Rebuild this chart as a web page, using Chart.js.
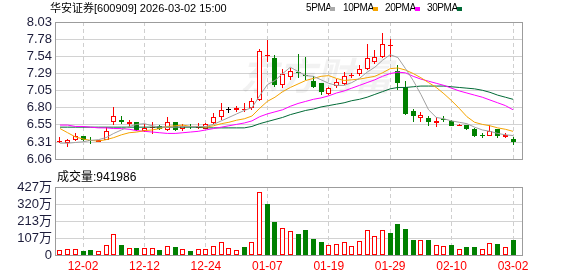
<!DOCTYPE html>
<html>
<head>
<meta charset="utf-8">
<script src="https://cdn.jsdelivr.net/npm/chart.js@4.4.1/dist/chart.umd.min.js"></script>
<style>
    body { margin: 0; background: #fff; width: 578px; height: 276px; position: relative; overflow: hidden;
           font-family: "Liberation Sans", "Noto Sans CJK SC", sans-serif; }
    canvas { position: absolute; left: 0; }
    #kline { top: 0; }
    #vol { top: 170px; }
    .txt { position: absolute; white-space: nowrap; color: #000; }
    .title { left: 50px; top: 1px; font-size: 11px; line-height: 14px; }
    .lg { top: 2px; font-size: 10px; line-height: 12px; letter-spacing: -0.4px; }
    .sw { position: absolute; top: 7px; width: 5px; height: 4px; }
    .volLabel { left: 57px; top: 170px; font-size: 12px; line-height: 15px; }
</style>
</head>
<body>
<canvas id="kline" width="578" height="170"></canvas>
<canvas id="vol" width="578" height="106"></canvas>

<div class="txt title">华安证券[600909] 2026-03-02 15:00</div>
<div class="txt lg" style="left:306px">5PMA</div><div class="sw" style="left:330px;background:#aaaaaa"></div>
<div class="txt lg" style="left:343px">10PMA</div><div class="sw" style="left:373px;background:#f5a400"></div>
<div class="txt lg" style="left:385px">20PMA</div><div class="sw" style="left:415px;background:#ff00ff"></div>
<div class="txt lg" style="left:427px">30PMA</div><div class="sw" style="left:457px;background:#006a36"></div>
<div class="txt volLabel">成交量:941986</div>

<script>
// 交易日
const dates = ['11-27','11-28','12-01','12-02','12-03','12-04','12-05','12-08','12-09','12-10',
               '12-11','12-12','12-15','12-16','12-17','12-18','12-19','12-22','12-23','12-24',
               '12-25','12-26','12-29','12-30','12-31','01-05','01-06','01-07','01-08','01-09',
               '01-12','01-13','01-14','01-15','01-16','01-19','01-20','01-21','01-22','01-23',
               '01-26','01-27','01-28','01-29','01-30','02-02','02-03','02-04','02-05','02-06',
               '02-09','02-10','02-11','02-12','02-13','02-24','02-25','02-26','02-27','03-02'];

// K线 (开 高 低 收)
const open  = [6.30,6.29,6.33,6.39,6.33,6.31,6.34,6.59,6.63,6.57, 6.59,6.47,6.51,6.53,6.48,6.59,6.49,6.53,6.51,6.50,
               6.58,6.66,6.77,6.76,6.77,6.79,6.91,7.54,7.52,7.12, 7.24,7.31,7.26,7.18,7.15,6.99,7.11,7.14,7.26,7.29,
               7.36,7.45,7.53,7.68,7.33,7.09,6.75,6.65,6.65,6.58, 6.64,6.61,6.54,6.55,6.50,6.41,6.40,6.49,6.38,6.35];
const high  = [6.38,6.35,6.44,6.40,6.38,6.34,6.52,6.81,6.68,6.62, 6.59,6.57,6.59,6.55,6.66,6.60,6.57,6.56,6.58,6.58,
               6.72,6.86,6.81,6.82,6.86,6.94,7.64,7.77,7.55,7.35, 7.37,7.57,7.53,7.25,7.16,7.09,7.21,7.31,7.30,7.41,
               7.72,7.63,7.87,7.78,7.41,7.19,6.78,6.74,6.68,6.67, 6.68,6.62,6.57,6.55,6.51,6.43,6.55,6.49,6.44,6.38];
const low   = [6.29,6.24,6.32,6.32,6.28,6.30,6.33,6.55,6.57,6.52, 6.46,6.45,6.42,6.48,6.46,6.47,6.46,6.50,6.49,6.49,
               6.56,6.63,6.73,6.74,6.74,6.77,6.90,7.46,7.09,7.08, 7.20,7.23,7.20,7.08,6.98,6.98,7.08,7.12,7.22,7.26,
               7.34,7.43,7.51,7.53,7.05,6.70,6.59,6.59,6.54,6.52, 6.60,6.53,6.53,6.48,6.38,6.37,6.40,6.37,6.36,6.26];
const close = [6.31,6.33,6.39,6.33,6.32,6.33,6.47,6.68,6.59,6.60, 6.48,6.51,6.52,6.50,6.60,6.48,6.53,6.52,6.53,6.57,
               6.67,6.77,6.77,6.79,6.78,6.90,7.61,7.55,7.13,7.28, 7.32,7.30,7.25,7.10,7.02,7.08,7.17,7.25,7.27,7.35,
               7.51,7.53,7.72,7.69,7.16,6.71,6.68,6.69,6.60,6.61, 6.63,6.54,6.55,6.50,6.39,6.40,6.46,6.40,6.41,6.31];

// 均线
const ma5  = [6.29,6.29,6.30,6.31,6.33,6.34,6.37,6.43,6.48,6.53, 6.56,6.57,6.54,6.52,6.52,6.52,6.53,6.53,6.53,6.53,
              6.56,6.61,6.66,6.71,6.76,6.80,6.97,7.13,7.19,7.29, 7.38,7.32,7.26,7.25,7.20,7.15,7.12,7.12,7.16,7.22,
              7.31,7.38,7.48,7.56,7.52,7.36,7.19,6.99,6.77,6.66, 6.64,6.61,6.59,6.57,6.52,6.48,6.46,6.43,6.41,6.40];
const ma10 = [6.50,6.44,6.38,6.35,6.33,6.32,6.34,6.37,6.41,6.44, 6.45,6.47,6.48,6.50,6.53,6.54,6.55,6.53,6.53,6.52,
              6.54,6.57,6.59,6.62,6.64,6.68,6.79,6.89,6.95,7.03, 7.09,7.14,7.19,7.22,7.25,7.26,7.22,7.19,7.20,7.21,
              7.23,7.25,7.30,7.36,7.37,7.34,7.29,7.23,7.16,7.09, 7.00,6.90,6.79,6.67,6.59,6.56,6.54,6.51,6.49,6.46];
const ma20 = [6.55,6.55,6.53,6.53,6.52,6.51,6.51,6.50,6.50,6.49, 6.47,6.46,6.45,6.44,6.43,6.43,6.44,6.45,6.46,6.48,
              6.50,6.52,6.54,6.56,6.58,6.61,6.67,6.71,6.74,6.77, 6.82,6.86,6.89,6.92,6.94,6.97,7.01,7.04,7.08,7.12,
              7.16,7.20,7.25,7.29,7.31,7.30,7.25,7.21,7.18,7.15, 7.12,7.08,7.04,7.01,6.98,6.95,6.91,6.87,6.83,6.77];
const ma30 = [6.52,6.52,6.52,6.52,6.52,6.52,6.52,6.52,6.52,6.52, 6.52,6.52,6.52,6.52,6.52,6.52,6.52,6.52,6.52,6.51,
              6.51,6.51,6.51,6.51,6.51,6.53,6.57,6.60,6.63,6.66, 6.70,6.73,6.76,6.78,6.81,6.83,6.85,6.87,6.90,6.92,
              6.95,6.99,7.03,7.07,7.09,7.09,7.10,7.11,7.11,7.11, 7.11,7.10,7.09,7.08,7.07,7.05,7.02,6.98,6.95,6.92];

// 成交量 (万手)
const volume = [31,37,37,27,31,25,60,131,62,42, 44,42,42,31,54,48,37,27,36,36,
                56,79,42,31,48,81,398,321,208,167, 150,131,156,100,83,62,67,81,56,87,
                160,119,156,140,194,162,94,94,94,62, 56,62,36,50,50,37,73,69,48,94];

const tickDates = ['12-02','12-12','12-24','01-07','01-19','01-29','02-10','03-02'];
const priceTicks = ['6.06','6.31','6.55','6.80','7.05','7.29','7.54','7.78','8.03'];
const volTicks = ['0','107万','213万','320万','427万'];

const RED = '#ff0000', GREEN = '#008000', BLACK = '#000000';
const P_MIN = 6.06, P_MAX = 8.03, V_MAX = 427;
const FONT = '"Liberation Sans", "Noto Sans CJK SC", Arial, sans-serif';
Chart.defaults.font.family = FONT;

const candleColor = dates.map((d, i) => close[i] > open[i] ? RED : close[i] < open[i] ? GREEN : BLACK);
const hollow = dates.map((d, i) => close[i] - open[i] > 0.02);

function xAxis(showLabels) {
    return {
        type: 'linear', min: -0.65, max: 60.17, offset: false,
        grid: { color: '#cfcfcf', drawTicks: false, offset: false },
        border: { display: false, dash: [4, 3] },
        afterBuildTicks: s => { s.ticks = tickDates.map(d => ({ value: dates.indexOf(d) })); },
        afterFit: s => { s.height = showLabels ? 21 : 5; },
        ticks: {
            display: showLabels, autoSkip: false, maxRotation: 0, padding: 4,
            color: RED, font: { size: 12 },
            callback: v => dates[v]
        }
    };
}

function yAxis(labels, min, max) {
    return {
        min: min, max: max,
        grid: { color: '#d2d2d2', drawTicks: false },
        border: { display: false },
        afterBuildTicks: s => {
            s.ticks = labels.map((t, k) => ({ value: min + k * (max - min) / (labels.length - 1) }));
        },
        afterFit: s => { s.width = 55; },
        ticks: { autoSkip: false, color: '#1c1c3a', font: { size: 13 }, padding: 3,
                 callback: (v, i) => labels[i] }
    };
}

// 柱体对齐到整像素, 避免发虚
const snapBars = {
    id: 'snapBars',
    afterDatasetsUpdate(chart) {
        chart.data.datasets.forEach((ds, k) => {
            const meta = chart.getDatasetMeta(k);
            if (meta.type !== 'bar') return;
            meta.data.forEach(el => {
                el.x = Math.floor(el.x) + 0.5;
                el.y = Math.round(el.y);
                el.base = Math.round(el.base);
            });
        });
    }
};

const frame = {
    id: 'frame',
    beforeDatasetsDraw(chart) {
        const { ctx, chartArea: a } = chart;
        ctx.save();
        ctx.strokeStyle = '#9c9c9c';
        ctx.lineWidth = 1;
        ctx.strokeRect(Math.round(a.left) + 0.5, Math.round(a.top) + 0.5,
                       Math.round(a.right - a.left), Math.round(a.bottom - a.top));
        ctx.restore();
    }
};

const watermark = {
    id: 'watermark',
    beforeDatasetsDraw(chart) {
        const ctx = chart.ctx;
        ctx.save();
        ctx.fillStyle = 'rgba(0,0,0,0.05)';
        ctx.font = 'italic bold 38px "Noto Sans CJK SC"';
        ctx.textBaseline = 'middle';
        ctx.fillText('东方财富', 240, 76);
        ctx.restore();
    }
};

const common = {
    responsive: false,
    animation: false,
    devicePixelRatio: 1,
    plugins: { legend: { display: false }, tooltip: { enabled: false } }
};

const pts = arr => arr.map((v, i) => ({ x: i, y: v }));
const maLine = (arr, color) => ({
    type: 'line', data: pts(arr), borderColor: color, borderWidth: 1,
    pointRadius: 0, tension: 0, order: 0
});

new Chart(document.getElementById('kline'), {
    type: 'bar',
    data: {
        datasets: [
            {   // 影线
                data: dates.map((d, i) => ({ x: i, y: [low[i], high[i]] })),
                backgroundColor: candleColor,
                grouped: false, maxBarThickness: 1, order: 3
            },
            {   // 实体
                data: dates.map((d, i) => ({ x: i, y: [Math.min(open[i], close[i]), Math.max(open[i], close[i])] })),
                backgroundColor: dates.map((d, i) => hollow[i] ? '#ffffff' : candleColor[i]),
                borderColor: candleColor,
                borderWidth: 1, borderSkipped: false, minBarLength: 1,
                grouped: false, maxBarThickness: 5, order: 2
            },
            maLine(ma5, '#a0a0a0'),
            maLine(ma10, '#f5a400'),
            maLine(ma20, '#ff00ff'),
            maLine(ma30, '#006a36')
        ]
    },
    options: Object.assign({}, common, {
        layout: { padding: { top: 22, right: 56, left: 0, bottom: 0 } },
        scales: { x: xAxis(false), y: yAxis(priceTicks, P_MIN, P_MAX) }
    }),
    plugins: [snapBars, frame, watermark]
});

const volUp = dates.map((d, i) => i === 0 || close[i] >= close[i - 1]);

new Chart(document.getElementById('vol'), {
    type: 'bar',
    data: {
        datasets: [{
            data: pts(volume),
            backgroundColor: volUp.map(u => u ? '#ffffff' : GREEN),
            borderColor: volUp.map(u => u ? RED : GREEN),
            borderWidth: 1, borderSkipped: false,
            grouped: false, maxBarThickness: 5
        }]
    },
    options: Object.assign({}, common, {
        layout: { padding: { top: 17, right: 56, left: 0, bottom: 0 } },
        scales: { x: xAxis(true), y: yAxis(volTicks, 0, V_MAX) }
    }),
    plugins: [snapBars, frame]
});
</script>
</body>
</html>
